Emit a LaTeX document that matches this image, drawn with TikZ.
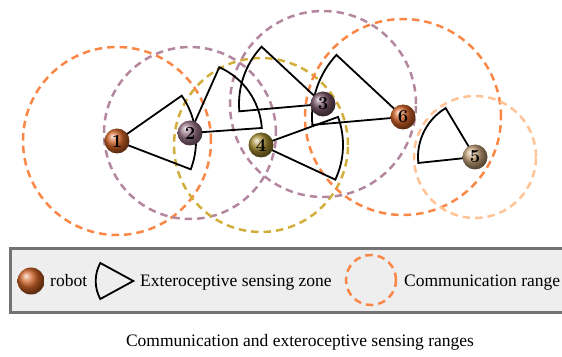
\documentclass[tikz,border=0pt]{standalone}
\usepackage{fontspec}
\newfontfamily\tnr{Liberation Serif}
\definecolor{cOr}{RGB}{250,135,70}
\definecolor{cMa}{RGB}{180,135,160}
\definecolor{cYe}{RGB}{210,175,60}
\definecolor{cLo}{RGB}{255,195,150}
\definecolor{bA}{RGB}{210,100,40}
\definecolor{bB}{RGB}{155,118,138}
\definecolor{bC}{RGB}{122,86,102}
\definecolor{bD}{RGB}{165,140,50}
\definecolor{bE}{RGB}{195,160,120}
\definecolor{boxgray}{RGB}{115,115,115}
\definecolor{boxfill}{RGB}{238,238,238}
\begin{document}
\begin{tikzpicture}[x=1pt,y=1pt,
  robot/.style={circle, minimum size=25pt, inner sep=0pt, shading=ball,
    font=\fontsize{18.5}{18.5}\selectfont\bfseries},
  comm/.style={line width=2.5pt, dash pattern=on 7.5pt off 5pt},
  zone/.style={draw=black, line width=1.8pt, line join=miter},
  lbl/.style={font=\tnr\fontsize{17.5}{20}\selectfont, inner sep=0pt, anchor=base west}]
\useasboundingbox (0,0) rectangle (562,356);
\clip (0,0) rectangle (562,356);
% positions
\coordinate (p1) at (117,215);
\coordinate (p2) at (190,223);
\coordinate (p3) at (323,252);
\coordinate (p4) at (261,211);
\coordinate (p5) at (475,199);
\coordinate (p6) at (403,239);
% communication ranges
\draw[comm, draw=cOr] (p1) circle[radius=94];
\draw[comm, draw=cMa] (p2) circle[radius=86];
\draw[comm, draw=cYe] (p4) circle[radius=87];
\draw[comm, draw=cMa] (p3) circle[radius=93];
\draw[comm, draw=cOr] (p6) circle[radius=98];
\draw[comm, draw=cLo] (p5) circle[radius=61];
% sensing zones
\draw[zone] (p1) -- ++(-21:79) arc[start angle=-21, end angle=35, radius=79] -- cycle;
\draw[zone] (p2) -- ++(4:72) arc[start angle=4, end angle=66, radius=72] -- cycle;
\draw[zone] (p3) -- ++(137:84) arc[start angle=137, end angle=185, radius=84] -- cycle;
\draw[zone] (p4) -- ++(-25:82) arc[start angle=-25, end angle=20, radius=82] -- cycle;
\draw[zone] (p5) -- ++(121:57) arc[start angle=121, end angle=186, radius=57] -- cycle;
\draw[zone] (p6) -- ++(137:91) arc[start angle=137, end angle=185, radius=91] -- cycle;
% robots
\node[robot, ball color=bA] (r1) at (p1) {1};
\node[robot, ball color=bB] (r2) at (p2) {2};
\node[robot, ball color=bC] (r3) at (p3) {3};
\node[robot, ball color=bD] (r4) at (p4) {4};
\node[robot, ball color=bE] (r5) at (p5) {5};
\node[robot, ball color=bA] (r6) at (p6) {6};
% legend
\draw[line width=2.5pt, draw=boxgray, fill=boxfill] (10.7,43.3) rectangle (568,107.7);
\node[robot, ball color=bA, minimum size=27pt] (lr) at (31,75) {};
\node[lbl] (lt1) at (50,69.3) {robot};
\coordinate (la) at (133.3,75);
\draw[zone] (la) -- ++(151.4:37.6) arc[start angle=151.4, end angle=208.6, radius=37.6] -- cycle;
\node[lbl] (lt2) at (140,69.3) {Exteroceptive sensing zone};
\draw[comm, draw=cOr] (371,76) circle[radius=25];
\node[lbl] (lt3) at (404,69.3) {Communication range};
% caption
\node[lbl, anchor=base] (cap) at (300,9.3) {Communication and exteroceptive sensing ranges};
\end{tikzpicture}
\end{document}
